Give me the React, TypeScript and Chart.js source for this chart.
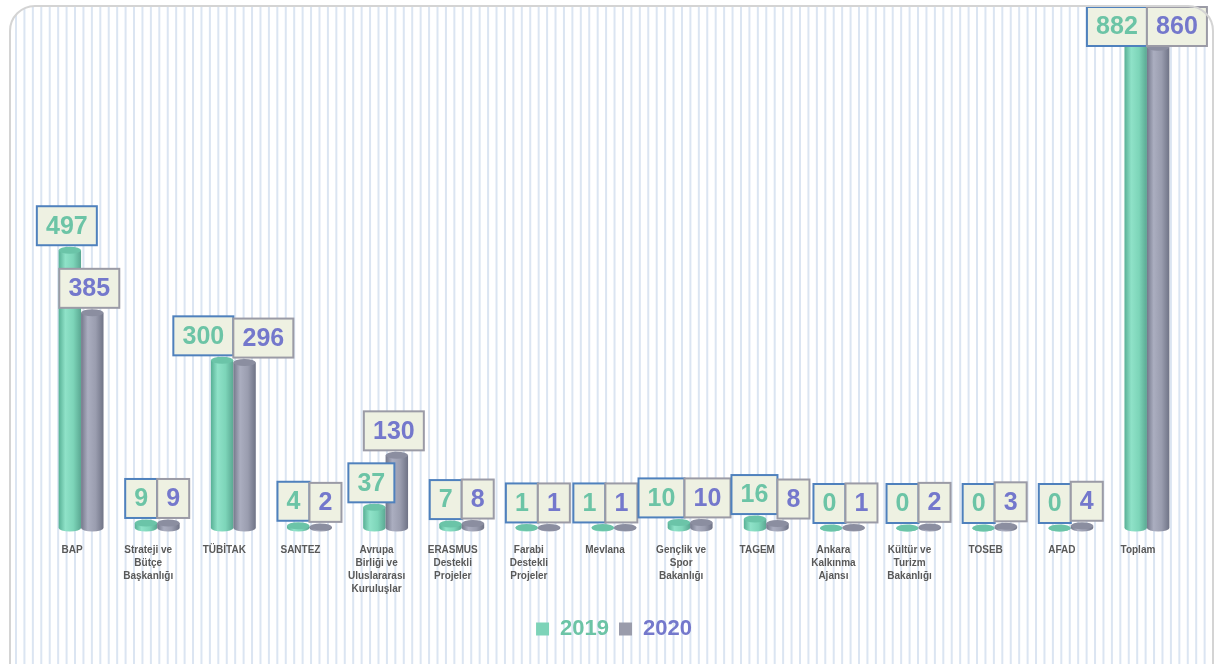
import { useEffect, useRef } from "react";
import { Chart, registerables } from "chart.js";

Chart.register(...registerables);

const categories: string[][] = [
  ["BAP"],
  ["Strateji ve", "Bütçe", "Başkanlığı"],
  ["TÜBİTAK"],
  ["SANTEZ"],
  ["Avrupa", "Birliği ve", "Uluslararası", "Kuruluşlar"],
  ["ERASMUS", "Destekli", "Projeler"],
  ["Farabi", "Destekli", "Projeler"],
  ["Mevlana"],
  ["Gençlik ve", "Spor", "Bakanlığı"],
  ["TAGEM"],
  ["Ankara", "Kalkınma", "Ajansı"],
  ["Kültür ve", "Turizm", "Bakanlığı"],
  ["TOSEB"],
  ["AFAD"],
  ["Toplam"],
];
const seriesNames = ["2019", "2020"];
const values2019 = [497, 9, 300, 4, 37, 7, 1, 1, 10, 16, 0, 0, 0, 0, 882];
const values2020 = [385, 9, 296, 2, 130, 8, 1, 1, 10, 8, 1, 2, 3, 4, 860];

const FONT = "'Liberation Sans', Arial, sans-serif";

const styles = [
  {
    legend: "#7dd3b8",
    text: "#6cc4a6",
    boxBorder: "#4f81bd",
    cap: "#6bc4a8",
    grad: ["#57b095", "#8fe2c8", "#7dd5b9", "#5aa892"],
  },
  {
    legend: "#9a9cab",
    text: "#7478cc",
    boxBorder: "#9b9ba6",
    cap: "#8b8ea0",
    grad: ["#74788b", "#abaec0", "#9a9daf", "#6f7386"],
  },
];

function roundRectPath(ctx: CanvasRenderingContext2D, x: number, y: number, w: number, h: number, r: number) {
  ctx.beginPath();
  ctx.moveTo(x + r, y);
  ctx.lineTo(x + w - r, y);
  ctx.arcTo(x + w, y, x + w, y + r, r);
  ctx.lineTo(x + w, y + h - r);
  ctx.arcTo(x + w, y + h, x + w - r, y + h, r);
  ctx.lineTo(x + r, y + h);
  ctx.arcTo(x, y + h, x, y + h - r, r);
  ctx.lineTo(x, y + r);
  ctx.arcTo(x, y, x + r, y, r);
  ctx.closePath();
}

const FRAME = { x: 10, y: 6, w: 1203, h: 700, r: 25 };

const backgroundPlugin = {
  id: "stripedBackground",
  beforeDraw(chart: any) {
    const ctx: CanvasRenderingContext2D = chart.ctx;
    ctx.save();
    ctx.fillStyle = "#ffffff";
    ctx.fillRect(0, 0, chart.width, chart.height);
    roundRectPath(ctx, FRAME.x, FRAME.y, FRAME.w, FRAME.h, FRAME.r);
    ctx.clip();
    ctx.fillStyle = "#dbe5f2";
    for (let x = 15; x < FRAME.x + FRAME.w; x += 8.43) {
      ctx.fillRect(x, 0, 2, chart.height);
    }
    ctx.restore();
  },
  afterDraw(chart: any) {
    const ctx: CanvasRenderingContext2D = chart.ctx;
    ctx.save();
    roundRectPath(ctx, FRAME.x, FRAME.y, FRAME.w, FRAME.h, FRAME.r);
    ctx.strokeStyle = "#d4d4d4";
    ctx.lineWidth = 2;
    ctx.stroke();
    ctx.restore();
  },
};

const cylinderPlugin = {
  id: "cylinders",
  afterDatasetsDraw(chart: any) {
    const ctx: CanvasRenderingContext2D = chart.ctx;
    const ry = 3.5;
    ctx.save();
    chart.data.datasets.forEach((_ds: any, di: number) => {
      const meta = chart.getDatasetMeta(di);
      const st = styles[di];
      meta.data.forEach((el: any) => {
        const { x, y, base, width } = el;
        const left = x - width / 2;
        const rx = width / 2;
        const g = ctx.createLinearGradient(left, 0, left + width, 0);
        g.addColorStop(0, st.grad[0]);
        g.addColorStop(0.3, st.grad[1]);
        g.addColorStop(0.65, st.grad[2]);
        g.addColorStop(1, st.grad[3]);
        ctx.fillStyle = g;
        ctx.beginPath();
        ctx.moveTo(left, y);
        ctx.lineTo(left, base);
        ctx.ellipse(x, base, rx, ry, 0, Math.PI, 0, true);
        ctx.lineTo(left + width, y);
        ctx.closePath();
        ctx.fill();
        ctx.beginPath();
        ctx.ellipse(x, y, rx, ry, 0, 0, Math.PI * 2);
        ctx.fillStyle = st.cap;
        ctx.fill();
      });
    });
    ctx.restore();

    // data label boxes
    const n = chart.data.labels.length;
    ctx.save();
    ctx.font = `bold 25px ${FONT}`;
    ctx.textAlign = "center";
    ctx.textBaseline = "middle";
    const h = 39;
    const overlaps = (p: any, q: any) =>
      p.top < q.bottom && q.top < p.bottom && p.left < q.left + q.w && q.left < p.left + p.w;
    const all: any[][] = [];
    for (let i = 0; i < n; i++) {
      const boxes = chart.data.datasets.map((ds: any, di: number) => {
        const el = chart.getDatasetMeta(di).data[i];
        const text = String(ds.data[i]);
        const w = Math.round(ctx.measureText(text).width) + 18;
        let bottom = el.y - 5;
        let top = bottom - h;
        if (top < 7) {
          top = 7;
          bottom = top + h;
        }
        const cx = el.x - 3;
        return { text, w, top, bottom, left: cx - w / 2, barX: el.x, di };
      });
      const [a, b] = boxes;
      if (overlaps(a, b)) {
        const mid = (a.barX + b.barX) / 2;
        a.left = mid - a.w;
        b.left = mid;
      }
      all.push(boxes);
    }
    // separate neighbouring categories whose boxes collide
    for (let pass = 0; pass < 4; pass++) {
      for (let i = 1; i < n; i++) {
        const prev = all[i - 1][1];
        const cur = all[i][0];
        if (overlaps(prev, cur)) {
          const shift = (prev.left + prev.w - cur.left + 4) / 2;
          all[i - 1].forEach((bx: any) => (bx.left -= shift));
          all[i].forEach((bx: any) => (bx.left += shift));
        }
      }
    }
    all.forEach((boxes) =>
      boxes.forEach((bx: any) => {
        const st = styles[bx.di];
        ctx.fillStyle = "#eef1e2";
        ctx.fillRect(bx.left, bx.top, bx.w, h);
        ctx.strokeStyle = st.boxBorder;
        ctx.lineWidth = 2;
        ctx.strokeRect(bx.left, bx.top, bx.w, h);
        ctx.fillStyle = st.text;
        ctx.fillText(bx.text, bx.left + bx.w / 2, bx.top + h / 2 + 1);
      })
    );
    ctx.restore();
  },
};

export default function App() {
  const ref = useRef<HTMLCanvasElement | null>(null);

  useEffect(() => {
    if (!ref.current) return;
    const chart = new Chart(ref.current, {
      type: "bar",
      data: {
        labels: categories,
        datasets: [
          { label: seriesNames[0], data: values2019, backgroundColor: "rgba(0,0,0,0)", borderWidth: 0 },
          { label: seriesNames[1], data: values2020, backgroundColor: "rgba(0,0,0,0)", borderWidth: 0 },
        ],
      },
      options: {
        responsive: false,
        animation: false,
        devicePixelRatio: 1,
        layout: { padding: { left: 43, right: 35, top: 25, bottom: 14 } },
        datasets: { bar: { categoryPercentage: 0.59, barPercentage: 1.0 } },
        scales: {
          x: {
            grid: { display: false },
            border: { display: false },
            ticks: {
              autoSkip: false,
              maxRotation: 0,
              minRotation: 0,
              labelOffset: -9,
              padding: 8,
              color: "#595959",
              font: { family: FONT, size: 10, weight: "bold", lineHeight: 1.3 },
            },
            afterFit: (scale: any) => {
              scale.height = 80;
            },
          },
          y: { display: false, min: 0, max: 900 },
        },
        plugins: {
          tooltip: { enabled: false },
          legend: {
            position: "bottom",
            labels: {
              boxWidth: 13,
              boxHeight: 13,
              padding: 10,
              font: { family: FONT, size: 22, weight: "bold" },
              generateLabels: () =>
                seriesNames.map((name, i) => ({
                  text: name,
                  fillStyle: styles[i].legend,
                  strokeStyle: styles[i].legend,
                  lineWidth: 0,
                  fontColor: styles[i].text,
                  hidden: false,
                  datasetIndex: i,
                })),
            },
          },
        },
      },
      plugins: [backgroundPlugin, cylinderPlugin],
    } as any);
    return () => chart.destroy();
  }, []);

  return (
    <div style={{ position: "absolute", left: 0, top: 0, width: 1220, height: 664 }}>
      <canvas ref={ref} width={1220} height={664} style={{ display: "block" }} />
    </div>
  );
}
